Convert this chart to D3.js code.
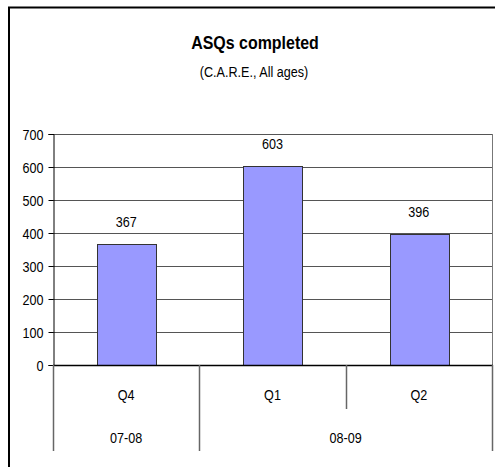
<!DOCTYPE html>
<html>
<head>
<meta charset="utf-8">
<script src="https://cdn.jsdelivr.net/npm/d3@7"></script>
<style>
  body { margin: 0; background: #fff; }
  svg { display: block; }
  text { font-family: "Liberation Sans", Arial, sans-serif; }
</style>
</head>
<body>
<svg id="chart" width="495" height="467"></svg>
<script>
const quarters = ["Q4", "Q1", "Q2"];
const years = ["07-08", "08-09", "08-09"];
const completed = [367, 603, 396];
const yTicks = [0, 100, 200, 300, 400, 500, 600, 700];

const svg = d3.select("#chart");

const plot = { left: 53, right: 492, top: 134, bottom: 365 };
const fontSize = "15px";
let squeeze = 0.84;

// Arial-narrow look: place text with a transform and squeeze it sideways
function placeNarrow(sel, fx, fy) {
  sel.attr("transform", (d, i) => "translate(" + fx(d, i) + "," + fy(d, i) + ") scale(" + squeeze + ",1)");
}

const x = d3.scaleBand()
  .domain(quarters)
  .range([plot.left, plot.right])
  .padding(0);

const y = d3.scaleLinear()
  .domain([0, 700])
  .range([plot.bottom, plot.top]);

const barWidth = x.bandwidth() * 0.4;

// outer frame (right and bottom run off the page)
svg.append("rect")
  .attr("x", 9)
  .attr("y", 7.5)
  .attr("width", 520)
  .attr("height", 500)
  .attr("fill", "none")
  .attr("stroke", "#000")
  .attr("stroke-width", 2);

svg.append("text")
  .attr("text-anchor", "middle")
  .attr("font-size", "19px")
  .attr("font-weight", "bold")
  .text("ASQs completed")
  .call(placeNarrow, () => 255, () => 49);

svg.append("text")
  .attr("text-anchor", "middle")
  .attr("font-size", "15px")
  .text("(C.A.R.E., All ages)")
  .call(placeNarrow, () => 254, () => 77);

// gridlines
svg.append("g")
  .selectAll("line")
  .data(yTicks.filter(d => d > 0))
  .enter()
  .append("line")
  .attr("x1", plot.left)
  .attr("x2", plot.right)
  .attr("y1", d => Math.round(y(d)) + 0.5)
  .attr("y2", d => Math.round(y(d)) + 0.5)
  .attr("stroke", "#555")
  .attr("stroke-width", 1);

// right border of plot area
svg.append("line")
  .attr("x1", plot.right + 0.5)
  .attr("x2", plot.right + 0.5)
  .attr("y1", plot.top)
  .attr("y2", plot.bottom)
  .attr("stroke", "#777");

// bars
svg.append("g")
  .selectAll("rect")
  .data(completed)
  .enter()
  .append("rect")
  .attr("x", (d, i) => Math.round(x(quarters[i]) + (x.bandwidth() - barWidth) / 2) + 0.5)
  .attr("y", d => Math.round(y(d)) + 0.5)
  .attr("width", Math.round(barWidth))
  .attr("height", d => Math.round(y(0)) - Math.round(y(d)))
  .attr("fill", "#9999ff")
  .attr("stroke", "#333")
  .attr("stroke-width", 1);

// value labels
svg.append("g")
  .selectAll("text")
  .data(completed)
  .enter()
  .append("text")
  .attr("text-anchor", "middle")
  .attr("font-size", fontSize)
  .text(d => d)
  .call(placeNarrow, (d, i) => x(quarters[i]) + x.bandwidth() / 2, d => y(d) - 17);

// y axis
const yAxis = svg.append("g")
  .attr("transform", "translate(" + (plot.left + 0.5) + ",0)")
  .call(d3.axisLeft(y).tickValues(yTicks).tickSize(5).tickPadding(5));

yAxis.select(".domain").attr("stroke", "#000");
yAxis.selectAll(".tick line").attr("stroke", "#000");
yAxis.selectAll(".tick text")
  .attr("x", null)
  .attr("dy", null)
  .attr("font-size", fontSize)
  .attr("font-family", "Liberation Sans, Arial, sans-serif")
  .attr("fill", "#000")
  .call(placeNarrow, () => -10, () => 5.5);

// zero line
svg.append("line")
  .attr("x1", plot.left)
  .attr("x2", plot.right + 1)
  .attr("y1", Math.round(y(0)) + 0.5)
  .attr("y2", Math.round(y(0)) + 0.5)
  .attr("stroke", "#000")
  .attr("stroke-width", 1.5);

// category separators
const groupEnd = 451;
const quarterEnd = 409;
const seps = [];
quarters.forEach((q, i) => {
  const left = x(q);
  const isYearStart = i === 0 || years[i] !== years[i - 1];
  seps.push({ x: left, y2: isYearStart ? groupEnd : quarterEnd });
});
seps.push({ x: plot.right, y2: groupEnd });

svg.append("g")
  .selectAll("line")
  .data(seps)
  .enter()
  .append("line")
  .attr("x1", d => Math.round(d.x) + 0.5)
  .attr("x2", d => Math.round(d.x) + 0.5)
  .attr("y1", plot.bottom)
  .attr("y2", d => d.y2)
  .attr("stroke", "#666")
  .attr("stroke-width", 1.5);

// quarter labels
svg.append("g")
  .selectAll("text")
  .data(quarters)
  .enter()
  .append("text")
  .attr("text-anchor", "middle")
  .attr("font-size", fontSize)
  .text(d => d)
  .call(placeNarrow, d => x(d) + x.bandwidth() / 2, () => 400);

// year labels
const yearGroups = d3.groups(quarters.map((q, i) => ({ q: q, year: years[i] })), d => d.year);

svg.append("g")
  .selectAll("text")
  .data(yearGroups)
  .enter()
  .append("text")
  .attr("text-anchor", "middle")
  .attr("font-size", fontSize)
  .text(d => d[0])
  .call(placeNarrow, d => {
    const first = x(d[1][0].q);
    const last = x(d[1][d[1].length - 1].q) + x.bandwidth();
    return (first + last) / 2;
  }, () => 443);
</script>
</body>
</html>
